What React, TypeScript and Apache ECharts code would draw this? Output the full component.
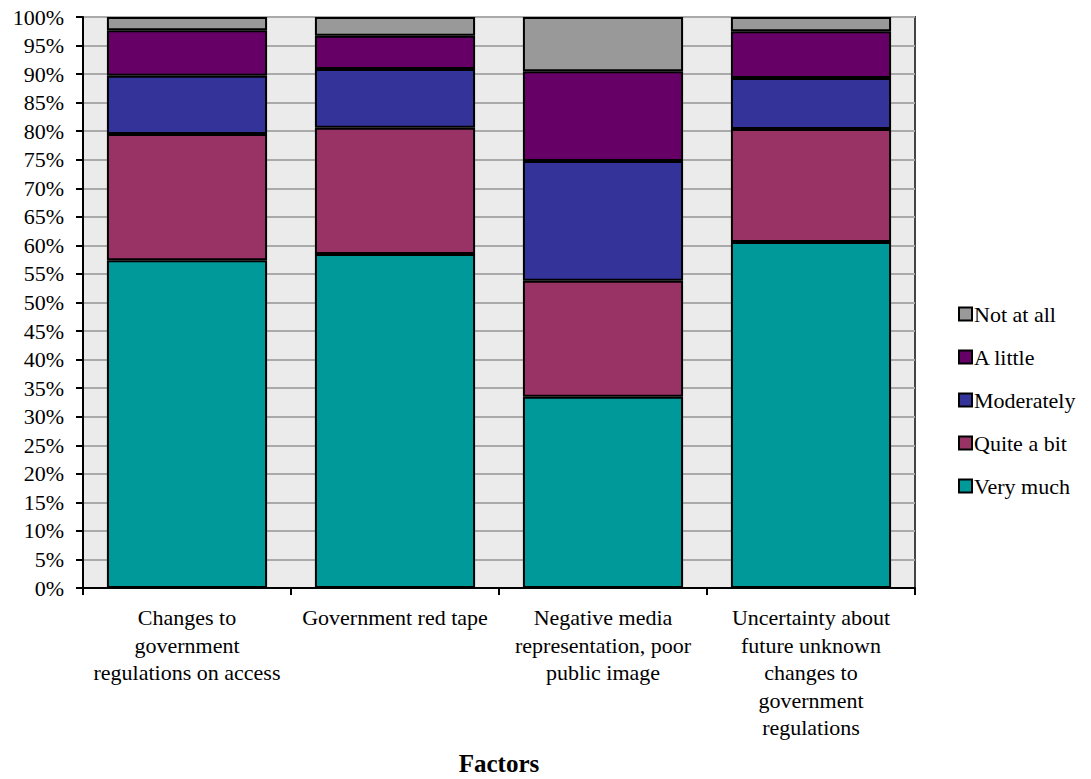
import React, { useEffect, useRef } from "react";
import * as echarts from "echarts";

const categories = [
  "Changes to\ngovernment\nregulations on access",
  "Government red tape",
  "Negative media\nrepresentation, poor\npublic image",
  "Uncertainty about\nfuture unknown\nchanges to\ngovernment\nregulations",
];
const veryMuch = [57.4, 58.5, 33.5, 60.6];
const quiteABit = [22.1, 22.1, 20.3, 19.8];
const moderately = [10.2, 10.3, 21.0, 8.9];
const aLittle = [8.0, 5.8, 15.7, 8.2];
const notAtAll = [2.3, 3.3, 9.5, 2.5];

const seriesNames = ["Very much", "Quite a bit", "Moderately", "A little", "Not at all"];
const seriesData = [veryMuch, quiteABit, moderately, aLittle, notAtAll];
const colors = ["#009999", "#993366", "#333399", "#660066", "#999999"];
const legendOrder = ["Not at all", "A little", "Moderately", "Quite a bit", "Very much"];

const FONT = "Liberation Serif";

export default function App() {
  const ref = useRef<HTMLDivElement>(null);
  useEffect(() => {
    document.body.style.margin = "0";
    const chart = echarts.init(ref.current!, null, { renderer: "svg" });
    chart.setOption({
      animation: false,
      textStyle: { fontFamily: FONT, color: "#000" },
      grid: {
        left: 83,
        top: 17,
        width: 832,
        height: 571,
        show: true,
        backgroundColor: "#ebebeb",
        borderColor: "#444",
        borderWidth: 2,
      },
      legend: {
        orient: "vertical",
        left: 953,
        top: 298,
        itemWidth: 13,
        itemHeight: 13,
        itemGap: 21,
        icon: "rect",
        data: legendOrder,
        textStyle: {
          fontFamily: FONT,
          fontSize: 22,
          lineHeight: 22,
          color: "#000",
          padding: [0, 0, 0, -3],
        },
        itemStyle: { borderColor: "#000", borderWidth: 2 },
      },
      xAxis: {
        type: "category",
        data: categories,
        axisLine: { lineStyle: { color: "#000", width: 2 } },
        axisTick: { show: true, length: 7, lineStyle: { color: "#000", width: 2 } },
        axisLabel: {
          interval: 0,
          margin: 16,
          fontFamily: FONT,
          fontSize: 22,
          lineHeight: 27.5,
          color: "#000",
          align: "center",
        },
      },
      yAxis: {
        type: "value",
        min: 0,
        max: 100,
        interval: 5,
        axisLine: { show: true, lineStyle: { color: "#000", width: 2 } },
        axisTick: { show: true, length: 7, lineStyle: { color: "#000", width: 2 } },
        splitLine: { show: true, lineStyle: { color: "#aaaaaa", width: 2 } },
        axisLabel: {
          formatter: "{value}%",
          fontFamily: FONT,
          fontSize: 22,
          color: "#000",
          margin: 19,
        },
      },
      graphic: [
        {
          type: "text",
          x: 499,
          y: 763,
          style: {
            text: "Factors",
            fontFamily: FONT,
            fontSize: 25,
            fontWeight: "bold",
            fill: "#000",
            align: "center",
            verticalAlign: "middle",
          },
        },
      ],
      series: seriesNames.map((name, i) => ({
        name,
        type: "bar",
        stack: "total",
        barWidth: "77%",
        data: seriesData[i],
        itemStyle: { color: colors[i], borderColor: "#000", borderWidth: 2 },
      })),
    });
    return () => chart.dispose();
  }, []);
  return <div ref={ref} style={{ width: 1091, height: 779 }} />;
}
